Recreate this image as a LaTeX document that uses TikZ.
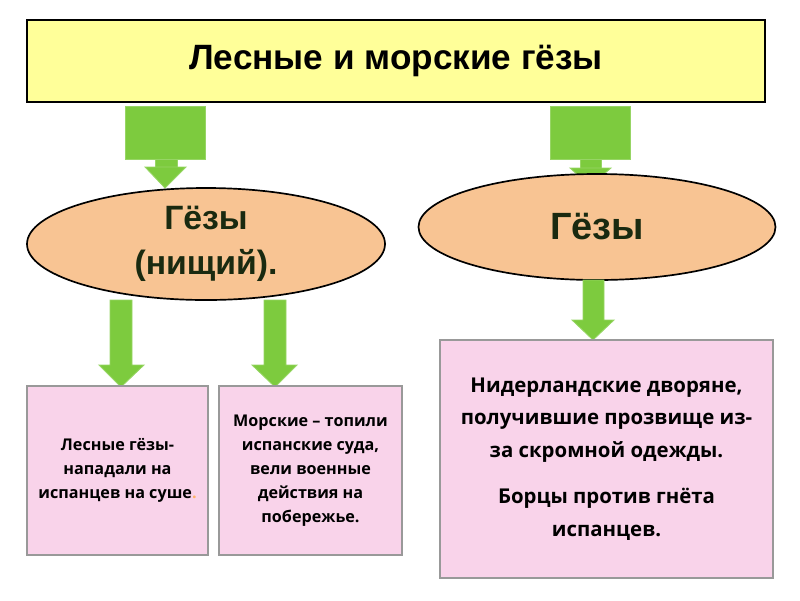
\documentclass[tikz,border=0pt]{standalone}
\usepackage{fontspec}
\setmainfont{Open Sans}
\newfontfamily\arialf{Liberation Sans}
\usetikzlibrary{shapes.geometric}
\definecolor{ttl}{HTML}{FFFF99}
\definecolor{grn}{HTML}{7DCB3E}
\definecolor{peach}{HTML}{F8C493}
\definecolor{pnk}{HTML}{F9D3EA}
\definecolor{txt}{HTML}{1A2A10}
\tikzset{x=0.025cm,y=-0.025cm,
 garrow/.style={fill=grn,draw=grn!80!white,line width=0.6pt},
 oval/.style={ellipse,draw=black,line width=1.2pt,fill=peach,inner sep=0pt,align=center},
 pbox/.style={draw=black!40,line width=0.8pt,fill=pnk,inner sep=0pt,align=center,font=\bfseries}}
\newcommand{\garr}[8]{% shaftL shaftR top bottom headL headR tipx tipy
 \fill[garrow] (#1,#3) -- (#2,#3) -- (#2,#4) -- (#6,#4) -- (#7,#8) -- (#5,#4) -- (#1,#4) -- cycle;}
\begin{document}
\begin{tikzpicture}
\useasboundingbox (0,0) rectangle (800,600);
\node[draw=black,line width=1.5pt,fill=ttl,minimum width=738*0.025cm,minimum height=82*0.025cm,font=\arialf\bfseries\fontsize{25}{28}\selectfont] (title) at (396,61) {Лесные и морские гёзы};
% top arrows
\fill[garrow] (125,106) rectangle (205,159);
\fill[garrow] (155,159) rectangle (177,167);
\fill[garrow] (145,167) -- (186,167) -- (165,188) -- cycle;
\fill[garrow] (550,106) rectangle (630,159);
\fill[garrow] (580,159) rectangle (601,168);
\fill[garrow] (570,168) -- (611,168) -- (590,186) -- cycle;
\node[oval,minimum width=358*0.025cm,minimum height=112*0.025cm,font=\arialf\bfseries\color{txt}\fontsize{24}{32}\selectfont] (e1) at (206,244) {Гёзы\\(нищий).};
\node[oval,minimum width=357*0.025cm,minimum height=106*0.025cm,font=\arialf\bfseries\color{txt}\fontsize{27}{30}\selectfont] (e2) at (597,227) {Гёзы};
% lower arrows
\garr{110}{132}{300}{365}{99}{144}{121}{387}
\garr{264}{286}{300}{365}{252}{297}{275}{387}
\garr{583}{604}{280}{320}{572}{614}{593}{340}
\node[pbox,minimum width=181*0.025cm,minimum height=169*0.025cm,font=\fontsize{11.5}{17}\selectfont\bfseries] (b1) at (117.5,470.5) {Лесные гёзы-\\нападали на\\испанцев на  суше{\color{orange!60}.}};
\node[pbox,minimum width=183*0.025cm,minimum height=169*0.025cm,font=\fontsize{11.5}{17}\selectfont\bfseries] (b2) at (310.5,470.5) {Морские – топили\\испанские суда,\\вели военные\\действия на\\побережье.};
\node[pbox,minimum width=333*0.025cm,minimum height=238*0.025cm,font=\fontsize{14.5}{23}\selectfont\bfseries] (b3) at (606.5,459) {Нидерландские дворяне,\\получившие прозвище из-\\за скромной одежды.\\[10pt]Борцы против гнёта\\испанцев.};
\end{tikzpicture}
\end{document}
